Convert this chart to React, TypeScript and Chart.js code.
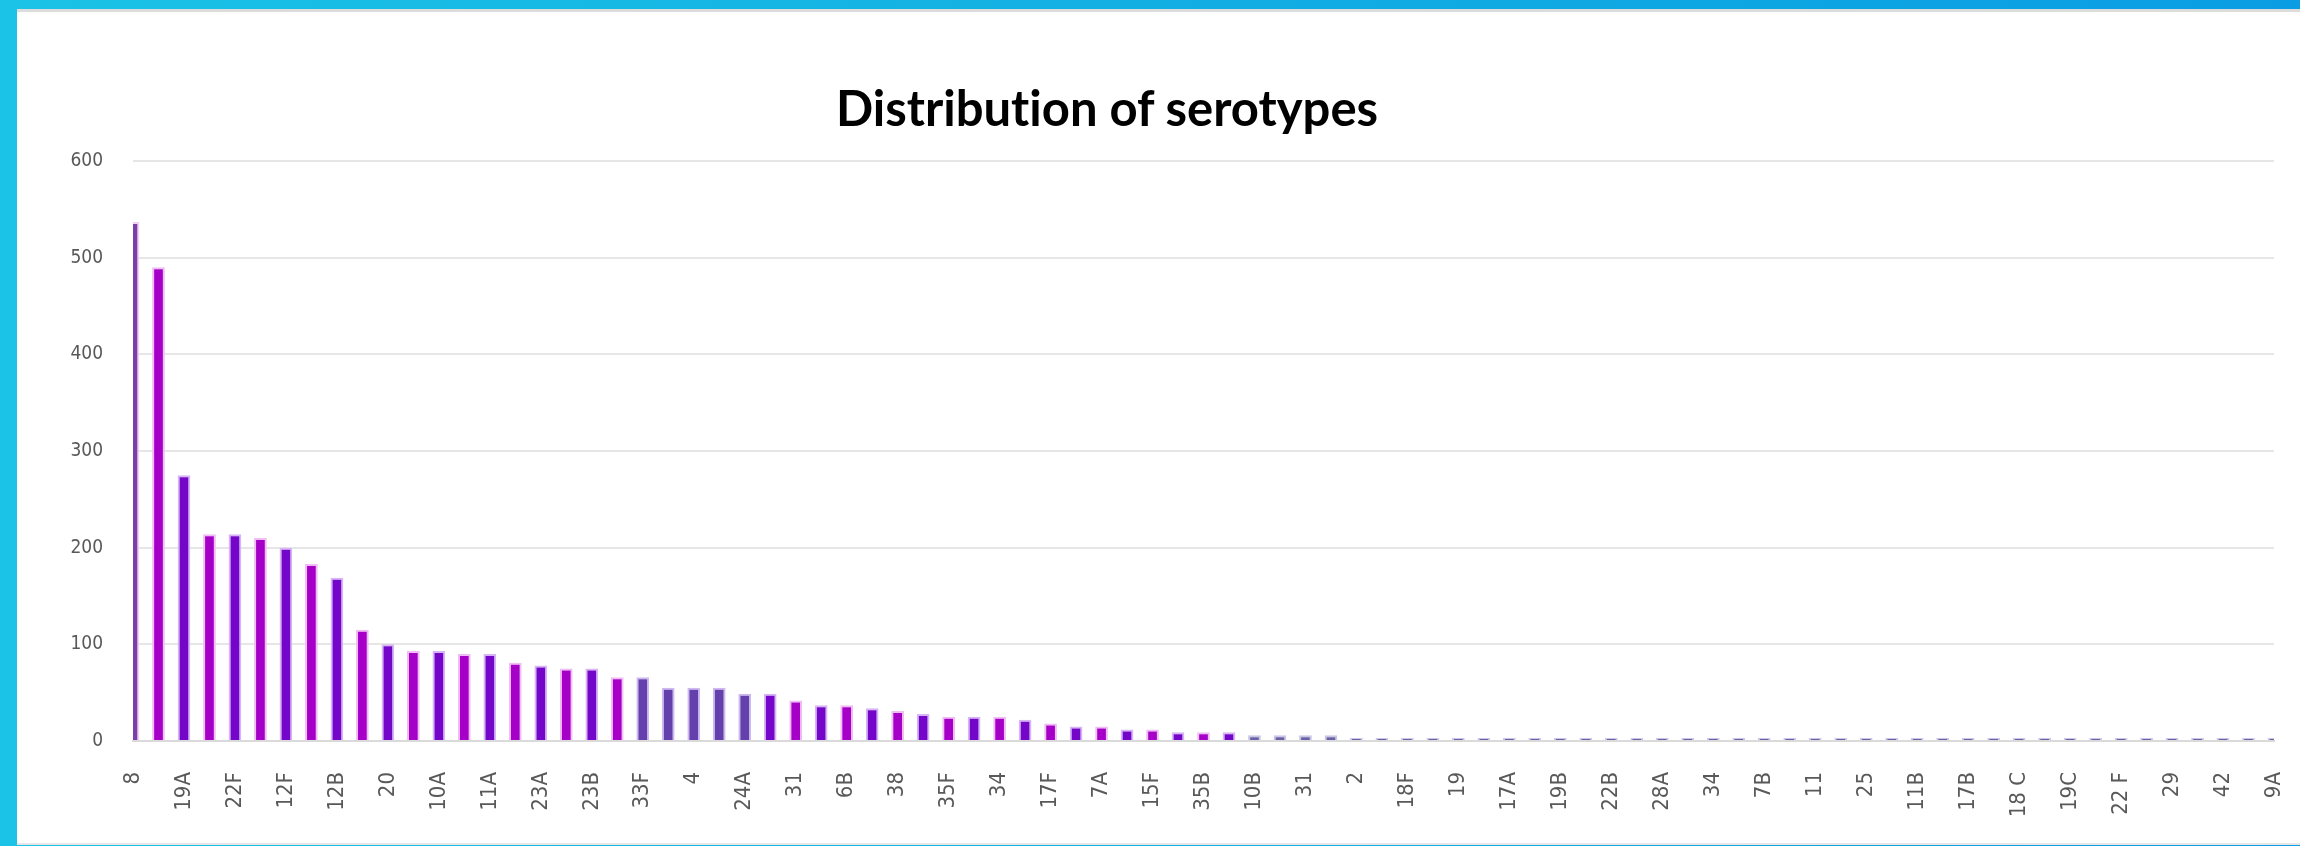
import React, { useEffect, useRef } from 'react';
import { Chart, registerables } from 'chart.js';

Chart.register(...registerables);

// Serotype labels visible on the axis (every second category is labelled)
const shownLabels: string[] = [
  '8', '19A', '22F', '12F', '12B', '20', '10A', '11A', '23A', '23B', '33F',
  '4', '24A', '31', '6B', '38', '35F', '34', '17F', '7A', '15F', '35B',
  '10B', '31', '2', '18F', '19', '17A', '19B', '22B', '28A', '34', '7B',
  '11', '25', '11B', '17B', '18 C', '19C', '22 F', '29', '42', '9A',
];

// Number of isolates per serotype
const counts: number[] = [
  537, 490, 275, 214, 214, 210, 200, 183, 169, 115,
  100, 93, 93, 90, 90, 81, 78, 75, 75, 66,
  66, 55, 55, 55, 49, 49, 42, 37, 37, 34,
  31, 28, 25, 25, 25, 22, 18, 15, 15, 12,
  12, 9, 9, 9, 6, 6, 6, 6, 3, 3,
  3, 3, 3, 3, 3, 3, 3, 3, 3, 3,
  3, 3, 3, 3, 3, 3, 3, 3, 3, 3,
  3, 3, 3, 3, 3, 3, 3, 3, 3, 3,
  3, 3, 3, 3, 3,
];

const yMin = 0;
const yMax = 600;
const yStep = 100;

const titleText = 'Distribution of serotypes';

const categories: string[] = counts.map((_, i) => (i % 2 === 0 ? shownLabels[i / 2] ?? '' : ''));

const TICK_FONT = '"Liberation Sans Narrow", "Arial Narrow", "DejaVu Sans Condensed", Lato, sans-serif';
const TITLE_FONT = 'Lato, "Open Sans", "Liberation Sans", sans-serif';

function fillFor(i: number): string {
  if (i === 0) return '#7B3FA8';
  if (i >= 44) return '#6A62A6';
  if (i >= 20 && i <= 24) return '#6440AC';
  const magenta = i < 20 ? i % 2 === 1 : i % 2 === 0;
  return magenta ? '#A600C8' : '#7406C9';
}

function edgeFor(i: number): string {
  if (i === 0) return '#F2D2F4';
  if (i >= 44) return '#C9C6E6';
  if (i >= 20 && i <= 24) return '#CDB8F0';
  const magenta = i < 20 ? i % 2 === 1 : i % 2 === 0;
  return magenta ? '#F0BCF4' : '#D6B4F6';
}

export default function App() {
  const canvasRef = useRef<HTMLCanvasElement | null>(null);

  useEffect(() => {
    const canvas = canvasRef.current;
    if (!canvas) return;
    const chart = new Chart(canvas, {
      type: 'bar',
      data: {
        labels: categories,
        datasets: [
          {
            data: counts,
            backgroundColor: (ctx: any) => fillFor(ctx.dataIndex),
            borderColor: (ctx: any) => edgeFor(ctx.dataIndex),
            borderWidth: { left: 2, right: 2, top: 2, bottom: 0 },
            borderSkipped: 'bottom',
            barPercentage: 0.5,
            categoryPercentage: 1.0,
          },
        ],
      },
      options: {
        animation: false,
        responsive: false,
        maintainAspectRatio: false,
        layout: { padding: { left: 0, right: 26, top: 161, bottom: 0 } },
        plugins: {
          legend: { display: false },
          tooltip: { enabled: false },
          title: { display: false },
        },
        scales: {
          x: {
            type: 'category',
            offset: false,
            grid: { display: false, drawTicks: false },
            border: { display: true, color: '#DADADA', width: 2 },
            ticks: {
              autoSkip: false,
              minRotation: 90,
              maxRotation: 90,
              padding: 31,
              color: '#595959',
              font: { family: TICK_FONT, size: 22 },
            },
            afterFit: (scale: any) => {
              scale.height = 105;
              scale.paddingLeft = 0;
              scale.paddingRight = 0;
            },
          },
          y: {
            min: yMin,
            max: yMax,
            ticks: {
              stepSize: yStep,
              padding: 30,
              color: '#595959',
              font: { family: TICK_FONT, size: 19 },
            },
            grid: { color: '#E6E6E6', lineWidth: 2, drawTicks: false },
            border: { display: false },
            afterFit: (scale: any) => {
              scale.width = 133;
              scale.paddingTop = 0;
              scale.paddingBottom = 0;
            },
          },
        },
      },
    });
    return () => chart.destroy();
  }, []);

  return (
    <div
      style={{
        position: 'fixed',
        left: 0,
        top: 0,
        width: 2300,
        height: 846,
        background: 'linear-gradient(90deg, #1BC3E6 0%, #12AFE3 50%, #0A9DE3 100%)',
        overflow: 'hidden',
      }}
    >
      <div
        style={{
          position: 'absolute',
          left: 17,
          top: 9,
          width: 2400,
          height: 836,
          background: '#FFFFFF',
          borderTop: '3px solid #DCDCDC',
          borderBottom: '2px solid #E6E6E6',
          boxSizing: 'border-box',
        }}
      />
      <div
        style={{
          position: 'absolute',
          left: 0,
          top: 77,
          width: 2214,
          textAlign: 'center',
          fontFamily: TITLE_FONT,
          fontWeight: 700,
          fontSize: 49,
          lineHeight: '60px',
          color: '#000000',
          fontVariantLigatures: 'none',
        }}
      >
        {titleText}
      </div>
      <canvas
        ref={canvasRef}
        width={2300}
        height={846}
        style={{ position: 'absolute', left: 0, top: 0, width: 2300, height: 846 }}
      />
    </div>
  );
}
